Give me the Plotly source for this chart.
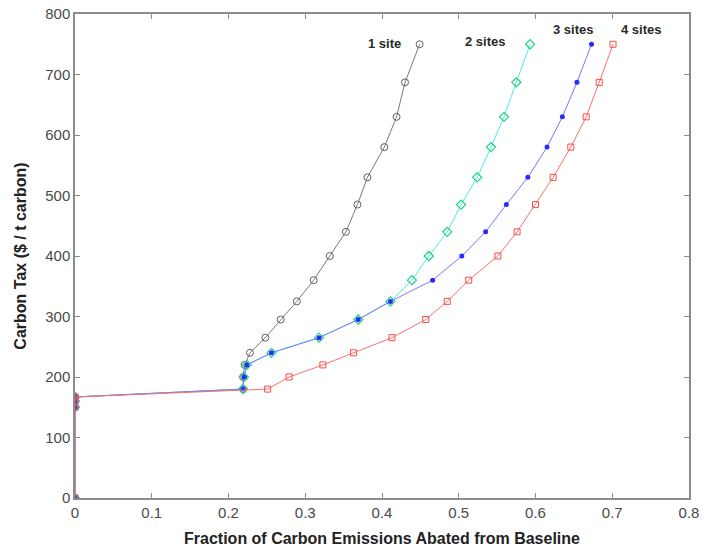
import plotly.graph_objects as go

tax = [0, 150, 160, 167, 180, 200, 220, 240, 265, 295, 325, 360, 400, 440, 485, 530, 580, 630, 687, 750]

x_1site = [0, 0, 0, 0, 0.219, 0.219, 0.221, 0.228, 0.248, 0.268, 0.289, 0.311, 0.332, 0.353, 0.368, 0.381, 0.403, 0.419, 0.430, 0.449]
x_2sites = [0, 0, 0, 0, 0.219, 0.220, 0.224, 0.256, 0.318, 0.369, 0.411, 0.439, 0.461, 0.485, 0.503, 0.524, 0.542, 0.559, 0.575, 0.593]
x_3sites = [0, 0, 0, 0, 0.219, 0.220, 0.224, 0.256, 0.318, 0.369, 0.411, 0.466, 0.504, 0.535, 0.562, 0.590, 0.615, 0.635, 0.654, 0.673]
x_4sites = [0, 0, 0, 0, 0.251, 0.279, 0.323, 0.363, 0.413, 0.457, 0.485, 0.513, 0.551, 0.576, 0.600, 0.623, 0.646, 0.666, 0.683, 0.701]

labels = ["1 site", "2 sites", "3 sites", "4 sites"]
label_x = [0.403, 0.534, 0.649, 0.737]
label_y = [752, 754, 775, 775]

fig = go.Figure()
fig.add_trace(go.Scatter(x=x_1site, y=tax, mode="lines+markers",
                         line=dict(color="#7a7a7a", width=1),
                         marker=dict(symbol="circle-open", size=7, color="#606060", line=dict(width=1))))
fig.add_trace(go.Scatter(x=x_2sites, y=tax, mode="lines+markers",
                         line=dict(color="#44f0f0", width=1),
                         marker=dict(symbol="diamond-open", size=7, color="#22d27a", line=dict(width=1.2))))
fig.add_trace(go.Scatter(x=x_3sites, y=tax, mode="lines+markers",
                         line=dict(color="#7878ff", width=1),
                         marker=dict(symbol="circle", size=5, color="#2a2aff")))
fig.add_trace(go.Scatter(x=x_4sites, y=tax, mode="lines+markers",
                         line=dict(color="#ff6e6e", width=1),
                         marker=dict(symbol="square-open", size=6, color="#ff4a4a", line=dict(width=1))))

for t, lx, ly in zip(labels, label_x, label_y):
    fig.add_annotation(x=lx, y=ly, text="<b>" + t + "</b>", showarrow=False,
                       font=dict(family="Liberation Sans, Arial", size=13, color="#2a2a2a"))

axis_common = dict(showgrid=False, zeroline=False, showline=True, linecolor="#8c8c8c", linewidth=1.5,
                   mirror="ticks", ticks="inside", ticklen=5, tickcolor="#8c8c8c", automargin=False,
                   ticklabeloverflow="allow",
                   tickfont=dict(family="Liberation Sans, Arial", size=15, color="#4a4a4a"))

fig.update_xaxes(range=[0, 0.8], dtick=0.1,
                 title=dict(text="<b>Fraction of Carbon Emissions Abated from Baseline</b>",
                            font=dict(family="Liberation Sans, Arial", size=16, color="#222"), standoff=13),
                 **axis_common)
fig.update_yaxes(range=[0, 800], dtick=100,
                 title=dict(text="<b>Carbon Tax ($ / t carbon)</b>",
                            font=dict(family="Liberation Sans, Arial", size=16, color="#222"), standoff=15),
                 **axis_common)

fig.update_layout(width=703, height=550, showlegend=False,
                  margin=dict(l=75, r=14, t=14, b=52),
                  plot_bgcolor="white", paper_bgcolor="white")

fig.write_html("out.html", config={"displayModeBar": False},
               post_script="document.body.style.margin='0';document.body.style.overflow='hidden';")
